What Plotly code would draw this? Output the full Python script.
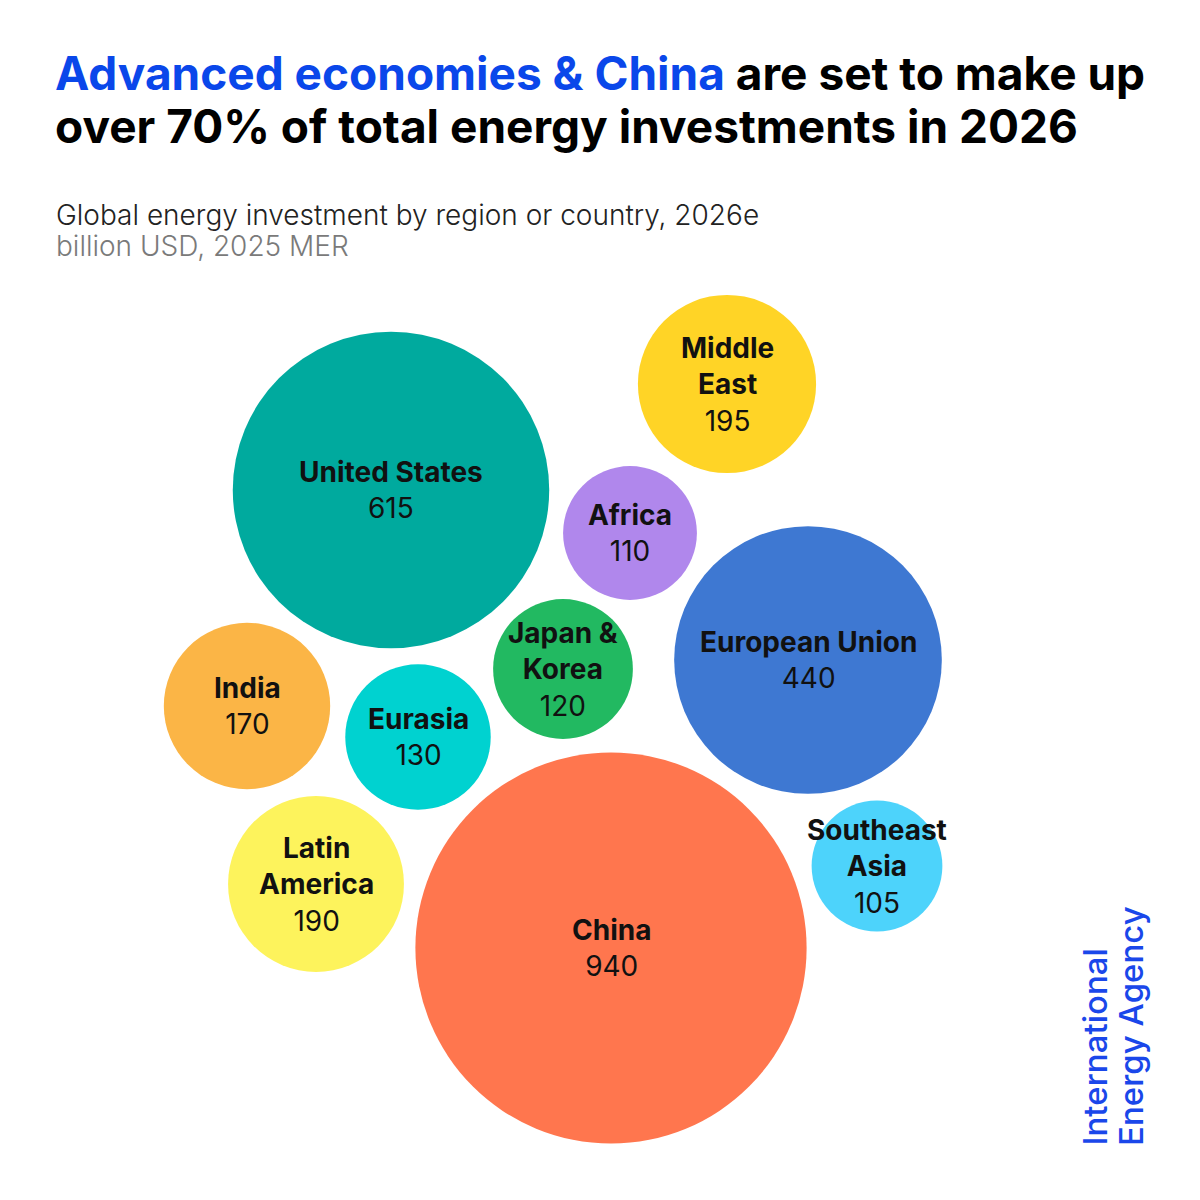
import plotly.graph_objects as go
import math

# ---- data ----
regions = ["United States", "China", "European Union", "Middle East", "Africa",
           "Japan & Korea", "Eurasia", "India", "Latin America", "Southeast Asia"]
label_lines = ["United States", "China", "European Union", "Middle<br>East", "Africa",
               "Japan &amp;<br>Korea", "Eurasia", "India", "Latin<br>America", "Southeast<br>Asia"]
values = [615, 940, 440, 195, 110, 120, 130, 170, 190, 105]

# ---- layout (packing positions in px of the 1200x1200 canvas) ----
pos_x = [391, 611, 808, 727, 630, 563, 418, 247, 316, 877]
pos_y = [490, 948, 660, 384, 533, 669, 737, 706, 884, 866]
colors = ["#00AA9E", "#FF764E", "#3E78D2", "#FFD426", "#B087EC",
          "#22B961", "#00D2D0", "#FBB546", "#FDF35C", "#4DD3FB"]

PX_PER_SQRT = 6.38
diam = [2 * PX_PER_SQRT * math.sqrt(v) for v in values]

fig = go.Figure()
fig.add_trace(go.Scatter(
    x=pos_x, y=pos_y, mode="markers",
    marker=dict(size=diam, sizemode="diameter", color=colors, opacity=1,
                line=dict(width=0)),
    hoverinfo="text", text=regions, showlegend=False,
))

FONT = "Inter"
for lab, v, x, y in zip(label_lines, values, pos_x, pos_y):
    fig.add_annotation(x=x, y=y, xref="x", yref="y",
                       text=f"<b>{lab}</b><br>{v}", showarrow=False,
                       font=dict(family=FONT, size=28, color="#111111"),
                       align="center", xanchor="center", yanchor="middle")

# title (two lines placed separately for tight line spacing)
fig.add_annotation(x=53, y=43, xref="x", yref="y", xanchor="left", yanchor="top",
                   text="<span style='color:#0A47EA'>Advanced economies &amp; China</span> are set to make up",
                   showarrow=False, align="left",
                   font=dict(family=FONT, size=46, color="#000000", weight=700))
fig.add_annotation(x=53, y=96, xref="x", yref="y", xanchor="left", yanchor="top",
                   text="over 70% of total energy investments in 2026",
                   showarrow=False, align="left",
                   font=dict(family=FONT, size=46, color="#000000", weight=700))
fig.add_annotation(x=54, y=196, xref="x", yref="y", xanchor="left", yanchor="top",
                   text="Global energy investment by region or country, 2026e",
                   showarrow=False, align="left",
                   font=dict(family=FONT, size=28, color="#222222", weight=300))
fig.add_annotation(x=54, y=227, xref="x", yref="y", xanchor="left", yanchor="top",
                   text="billion USD, 2025 MER",
                   showarrow=False, align="left",
                   font=dict(family=FONT, size=28, color="#7A7A7A", weight=300))
fig.add_annotation(x=1094, y=1148, xref="x", yref="y", xanchor="center", yanchor="bottom",
                   text="International", textangle=-90, showarrow=False,
                   font=dict(family=FONT, size=33, color="#1A47EA", weight=500))
fig.add_annotation(x=1131, y=1148, xref="x", yref="y", xanchor="center", yanchor="bottom",
                   text="Energy Agency", textangle=-90, showarrow=False,
                   font=dict(family=FONT, size=33, color="#1A47EA", weight=500))

fig.update_xaxes(range=[0, 1200], visible=False, fixedrange=True)
fig.update_yaxes(range=[1200, 0], visible=False, fixedrange=True)
fig.update_layout(width=1200, height=1200, margin=dict(l=0, r=0, t=0, b=0),
                  paper_bgcolor="white", plot_bgcolor="white")

fig.write_html("out.html", config={"displayModeBar": False},
               post_script="document.body.style.margin='0';")
